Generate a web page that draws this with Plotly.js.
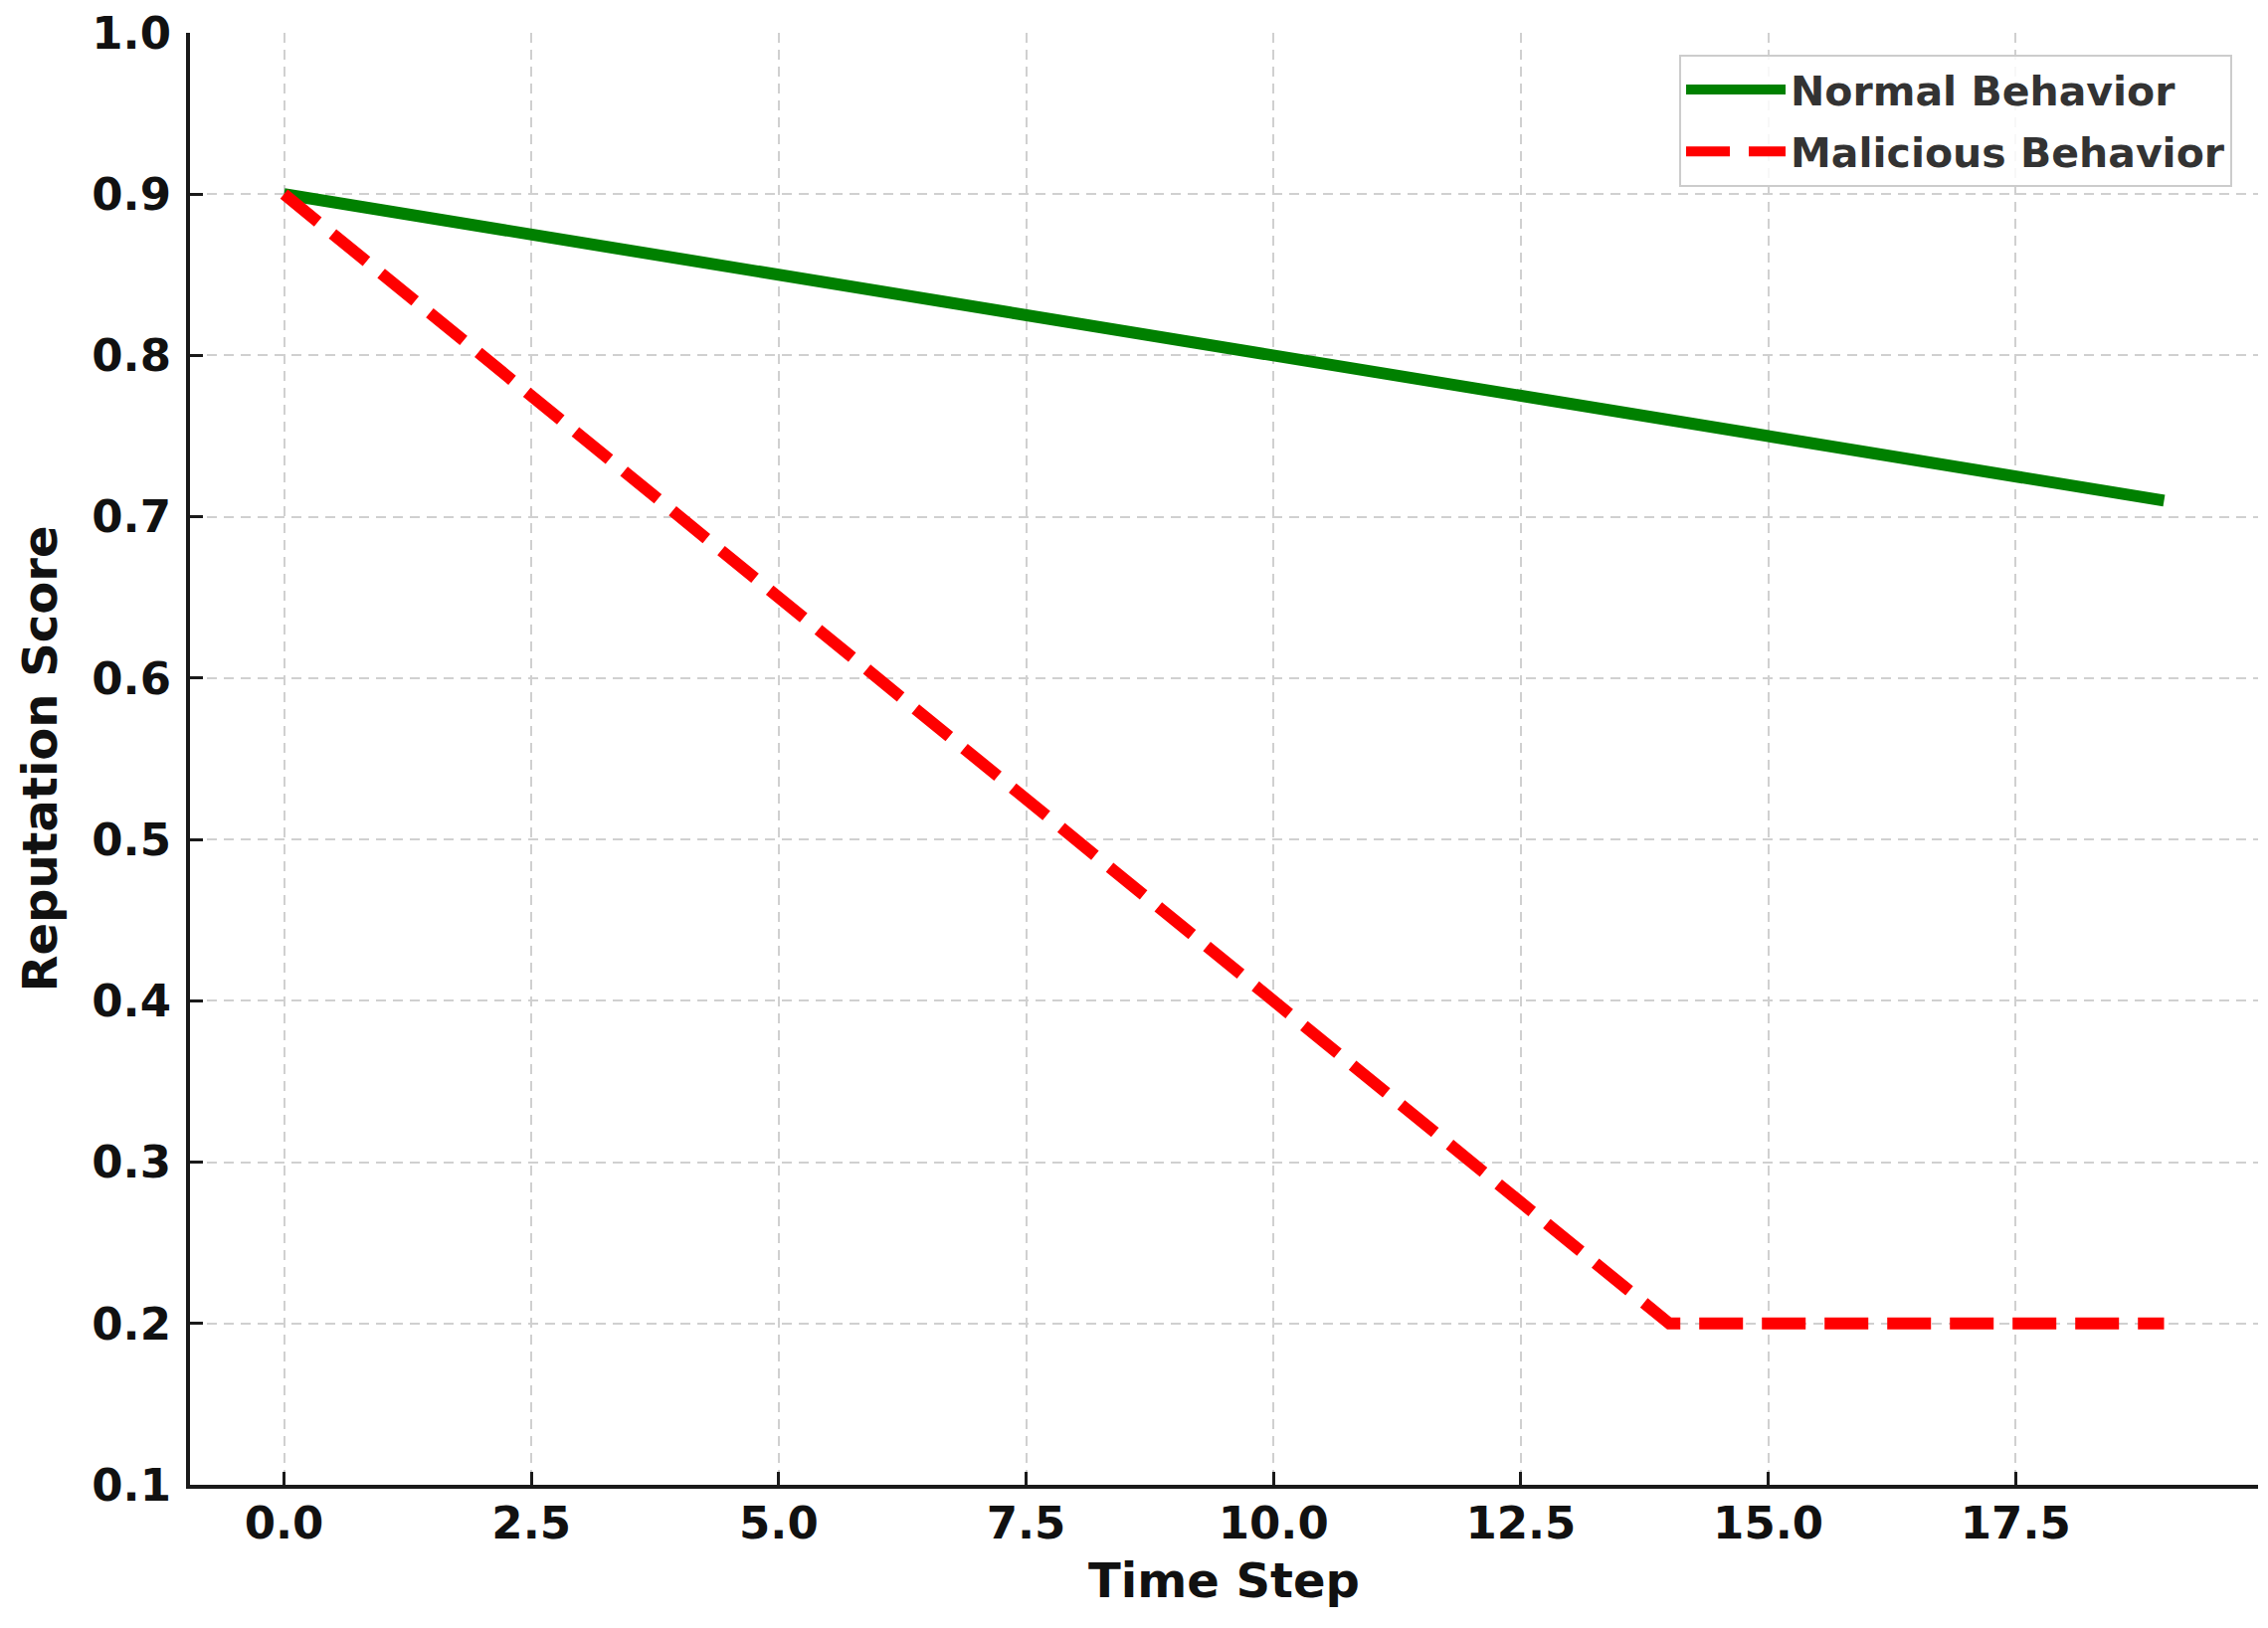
<!DOCTYPE html>
<html>
<head>
<meta charset="utf-8">
<script src="https://cdn.plot.ly/plotly-3.0.1.min.js"></script>
<style>
html,body{margin:0;padding:0;background:#fff;}
#chart{width:2280px;height:1637px;}
</style>
</head>
<body>
<div id="chart"></div>
<script>
const timeSteps = [0,1,2,3,4,5,6,7,8,9,10,11,12,13,14,15,16,17,18,19];
const normalScores = [0.90,0.89,0.88,0.87,0.86,0.85,0.84,0.83,0.82,0.81,0.80,0.79,0.78,0.77,0.76,0.75,0.74,0.73,0.72,0.71];
const maliciousScores = [0.90,0.85,0.80,0.75,0.70,0.65,0.60,0.55,0.50,0.45,0.40,0.35,0.30,0.25,0.20,0.20,0.20,0.20,0.20,0.20];
const seriesNames = ["Normal Behavior","Malicious Behavior"];
const xTicks = [0,2.5,5,7.5,10,12.5,15,17.5];
const yTicks = [0.1,0.2,0.3,0.4,0.5,0.6,0.7,0.8,0.9,1.0];

const FONT = '"DejaVu Sans", sans-serif';

const traces = [
  {x: timeSteps, y: normalScores, name: seriesNames[0], mode: 'lines', type: 'scatter',
   legendgroup: 'g1', line: {color: '#008000', width: 12}, hoverinfo: 'skip'},
  {x: timeSteps, y: maliciousScores, name: seriesNames[1], mode: 'lines', type: 'scatter',
   legendgroup: 'g2', line: {color: '#ff0000', width: 12, dash: '44px,19px'}, hoverinfo: 'skip'}
];

const axisCommon = {
  showline: true, linecolor: '#1a1a1a', linewidth: 4,
  ticks: 'inside', ticklen: 13, tickwidth: 3, tickcolor: '#1a1a1a',
  showgrid: true, gridcolor: '#d0d0d0', gridwidth: 2, griddash: '10px,7px',
  zeroline: false, mirror: false,
  tickfont: {family: FONT, size: 45, color: '#111111', weight: 'bold'},
  title: {font: {family: FONT, size: 48, color: '#111111', weight: 'bold'}}
};

const layout = {
  width: 2280, height: 1637,
  margin: {l: 191, r: 10, t: 33, b: 144},
  paper_bgcolor: '#ffffff', plot_bgcolor: '#ffffff',
  font: {family: FONT, weight: 'bold'},
  xaxis: Object.assign({}, axisCommon, {
    range: [-0.95, 19.95], tickvals: xTicks, ticktext: xTicks.map(v => v.toFixed(1)),
    ticklabelstandoff: -4,
    title: {text: 'Time Step', standoff: 16, font: axisCommon.title.font}
  }),
  yaxis: Object.assign({}, axisCommon, {
    range: [0.1, 1.0], tickvals: yTicks, ticktext: yTicks.map(v => v.toFixed(1)),
    ticklabelstandoff: 6,
    title: {text: 'Reputation Score', standoff: 20, font: axisCommon.title.font}
  }),
  legend: {
    x: 0.9875, y: 0.985, xanchor: 'right', yanchor: 'top',
    bgcolor: 'rgba(255,255,255,0.85)', bordercolor: '#cccccc', borderwidth: 2,
    font: {family: FONT, size: 41, color: '#333333', weight: 'bold'},
    itemwidth: 100, traceorder: 'grouped', tracegroupgap: 6
  },
  showlegend: true
};

Plotly.newPlot('chart', traces, layout, {staticPlot: true, displayModeBar: false});
</script>
</body>
</html>
